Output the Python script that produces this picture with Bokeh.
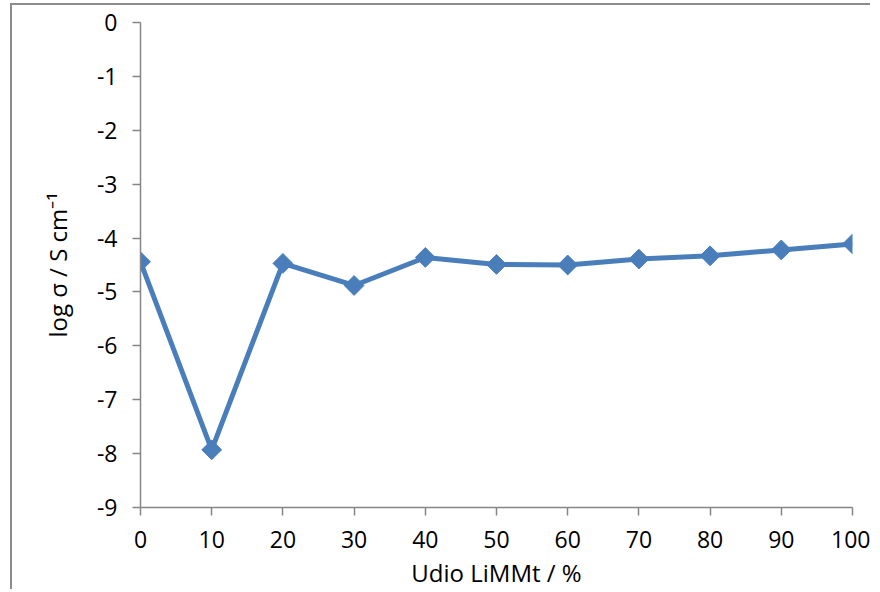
import math
from bokeh.plotting import figure
from bokeh.models import Range1d, FixedTicker
from bokeh.embed import file_html
from bokeh.resources import INLINE

share = [0, 10, 20, 30, 40, 50, 60, 70, 80, 90, 100]
log_sigma = [-4.44, -7.93, -4.47, -4.88, -4.36, -4.49, -4.50, -4.39, -4.33, -4.22, -4.11]
x_ticks = [0, 10, 20, 30, 40, 50, 60, 70, 80, 90, 100]
y_ticks = [-9, -8, -7, -6, -5, -4, -3, -2, -1, 0]

FONT = "Open Sans"
AXIS_COLOR = "#868686"
LINE_COLOR = "#4a7ebb"

p = figure(width=860, height=586, output_backend="svg", toolbar_location=None,
           x_range=Range1d(0, 100), y_range=Range1d(-9, 0),
           min_border_left=128, min_border_right=20, min_border_top=17, min_border_bottom=83,
           styles={"border-left": "2px solid #8c8c8c", "border-top": "2px solid #8c8c8c",
                   "margin-left": "10px", "margin-top": "3px"})
p.outline_line_color = None
p.xgrid.visible = False
p.ygrid.visible = False

p.line(share, log_sigma, line_color=LINE_COLOR, line_width=5)
p.scatter(share, log_sigma, marker="square", angle=math.pi / 4, size=14,
          fill_color=LINE_COLOR, line_color=LINE_COLOR)

for ax in (p.xaxis[0], p.yaxis[0]):
    ax.axis_line_color = AXIS_COLOR
    ax.axis_line_width = 1.5
    ax.major_tick_line_color = AXIS_COLOR
    ax.major_tick_line_width = 1.5
    ax.major_tick_in = 0
    ax.major_tick_out = 8
    ax.minor_tick_line_color = None
    ax.major_label_text_font = FONT
    ax.major_label_text_font_size = "23px"
    ax.major_label_text_color = "#000000"
    ax.axis_label_text_font = FONT
    ax.axis_label_text_font_size = "24px"
    ax.axis_label_text_font_style = "normal"
    ax.axis_label_text_color = "#000000"

p.xaxis.ticker = FixedTicker(ticks=x_ticks)
p.yaxis.ticker = FixedTicker(ticks=y_ticks)
p.xaxis.major_label_overrides = {t: str(t) for t in x_ticks}
p.yaxis.major_label_overrides = {t: str(t) for t in y_ticks}
p.xaxis.major_label_standoff = 15
p.yaxis.major_label_standoff = 15
p.xaxis.axis_label = "Udio LiMMt / %"
p.yaxis.axis_label = "log σ / S cm⁻¹"
p.xaxis.axis_label_standoff = 5
p.yaxis.axis_label_standoff = 20

open("out.html", "w").write(file_html(p, INLINE))
